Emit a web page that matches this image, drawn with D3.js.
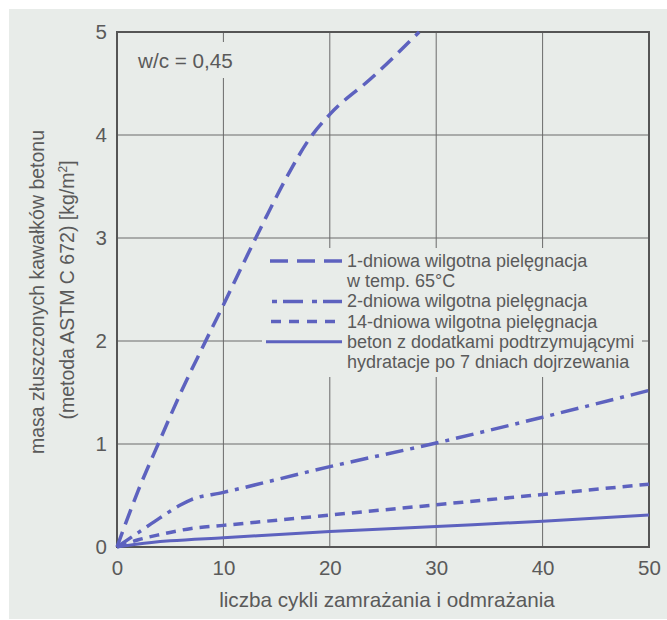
<!DOCTYPE html>
<html>
<head>
<meta charset="utf-8">
<script src="https://cdn.jsdelivr.net/npm/d3@7"></script>
<style>
  html, body { margin: 0; padding: 0; background: #ffffff; }
  svg { display: block; font-family: "Liberation Sans", Arial, sans-serif; }
</style>
</head>
<body>
<svg id="chart" width="667" height="620"></svg>
<script>
// Freeze–thaw cycles vs. mass of scaled-off concrete (ASTM C 672), w/c = 0.45
const xTicks = [0, 10, 20, 30, 40, 50];
const yTicks = [0, 1, 2, 3, 4, 5];

const series1Label = ["1-dniowa wilgotna pielęgnacja", "w temp. 65°C"];
const series2Label = ["2-dniowa wilgotna pielęgnacja"];
const series3Label = ["14-dniowa wilgotna pielęgnacja"];
const series4Label = ["beton z dodatkami podtrzymującymi", "hydratacje po 7 dniach dojrzewania"];

// [cycles, kg/m²]
const series1 = [[0,0],[2,0.55],[4,1.03],[6,1.5],[8,1.93],[10,2.35],[12,2.78],[14,3.2],[16,3.6],[18,3.95],[20,4.2],[24,4.56],[28.4,5]];
const series2 = [[0,0],[2,0.14],[4,0.28],[6,0.41],[7,0.46],[10,0.53],[20,0.78],[30,1.01],[40,1.26],[50,1.52]];
const series3 = [[0,0],[2,0.07],[4,0.12],[7,0.18],[10,0.21],[20,0.31],[30,0.41],[40,0.51],[50,0.61]];
const series4 = [[0,0],[2,0.03],[5,0.06],[10,0.09],[20,0.15],[30,0.2],[40,0.25],[50,0.31]];

const annotation = "w/c = 0,45";
const xTitle = "liczba cykli zamrażania i odmrażania";
const yTitle1 = "masa złuszczonych kawałków betonu";
const yTitle2 = "(metoda ASTM C 672) [kg/m";

const BG = "#e8ece9";
const INK = "#5a5a5a";
const LINE = "#5d62bf";

const svg = d3.select("#chart");
const plot = { left: 117, right: 649, top: 32, bottom: 547 };

const x = d3.scaleLinear().domain([0, 50]).range([plot.left, plot.right]);
const y = d3.scaleLinear().domain([0, 5]).range([plot.bottom, plot.top]);

// paper
svg.append("rect").attr("x", 9).attr("y", 9).attr("width", 658).attr("height", 610).attr("fill", BG);

// grid
const grid = svg.append("g");
grid.selectAll("line.v").data(xTicks.slice(1, -1)).join("line")
  .attr("x1", d => x(d)).attr("x2", d => x(d))
  .attr("y1", plot.top).attr("y2", plot.bottom)
  .attr("stroke", "#6a6a6a").attr("stroke-width", 1);
grid.selectAll("line.h").data(yTicks.slice(1, -1)).join("line")
  .attr("x1", plot.left).attr("x2", plot.right)
  .attr("y1", d => y(d)).attr("y2", d => y(d))
  .attr("stroke", "#6a6a6a").attr("stroke-width", 1);

// label backgrounds cover the grid
svg.append("rect").attr("x", 133).attr("y", 42).attr("width", 108).attr("height", 36).attr("fill", BG);
svg.append("rect").attr("x", 262).attr("y", 248).attr("width", 380).attr("height", 129).attr("fill", BG);

// frame
svg.append("rect")
  .attr("x", plot.left).attr("y", plot.top)
  .attr("width", plot.right - plot.left).attr("height", plot.bottom - plot.top)
  .attr("fill", "none").attr("stroke", "#555").attr("stroke-width", 2);

// axes
const fmt = d3.format("d");
const xAxis = svg.append("g").attr("transform", `translate(0,${plot.bottom})`)
  .call(d3.axisBottom(x).tickValues(xTicks).tickFormat(fmt).tickSize(0).tickPadding(13));
const yAxis = svg.append("g").attr("transform", `translate(${plot.left},0)`)
  .call(d3.axisLeft(y).tickValues(yTicks).tickFormat(fmt).tickSize(0).tickPadding(10));
[xAxis, yAxis].forEach(a => {
  a.select(".domain").remove();
  a.selectAll("text").attr("fill", INK).attr("font-size", 20.5)
    .attr("font-family", "'Liberation Sans', Arial, sans-serif");
});

// titles
svg.append("text").attr("x", 387).attr("y", 607).attr("text-anchor", "middle")
  .attr("font-size", 20.7).attr("fill", INK).text(xTitle);

svg.append("text").attr("transform", "translate(44,292) rotate(-90)")
  .attr("text-anchor", "middle").attr("font-size", 19.5).attr("fill", INK).text(yTitle1);
const yt2 = svg.append("text").attr("transform", "translate(74,290) rotate(-90)")
  .attr("text-anchor", "middle").attr("font-size", 19.5).attr("fill", INK);
yt2.append("tspan").text(yTitle2);
yt2.append("tspan").attr("font-size", 12).attr("dy", -7).text("2");
yt2.append("tspan").attr("dy", 7).text("]");

svg.append("text").attr("x", 138).attr("y", 68).attr("font-size", 20.7).attr("fill", INK).text(annotation);

// curves
const line = d3.line().x(d => x(d[0])).y(d => y(d[1])).curve(d3.curveMonotoneX);
const styles = [
  { data: series1, dash: "16 8", width: 3.5 },
  { data: series2, dash: "18 7 4 7", width: 3.5 },
  { data: series3, dash: "10 7", width: 3.5 },
  { data: series4, dash: null, width: 3 }
];
styles.forEach(s => {
  svg.append("path").attr("d", line(s.data))
    .attr("fill", "none").attr("stroke", LINE)
    .attr("stroke-width", s.width)
    .attr("stroke-dasharray", s.dash)
    .attr("stroke-linejoin", "round");
});

// legend
const legend = svg.append("g");
const lx1 = 342, tx = 347, base = 267, step = 20.2;
const legendRows = [
  { label: series1Label, dash: "18 9", x0: 270, width: 3.5 },
  { label: series2Label, dash: "5 6 20 9", x0: 272, width: 3.5 },
  { label: series3Label, dash: "10 8", x0: 271, width: 3.5 },
  { label: series4Label, dash: null, x0: 266, width: 3 }
];
let row = 0;
legendRows.forEach(r => {
  const cy = base + row * step - 6;
  legend.append("line").attr("x1", r.x0).attr("x2", lx1).attr("y1", cy).attr("y2", cy)
    .attr("stroke", LINE).attr("stroke-width", r.width).attr("stroke-dasharray", r.dash);
  r.label.forEach(t => {
    legend.append("text").attr("x", tx).attr("y", base + row * step)
      .attr("font-size", 18).attr("fill", INK).text(t);
    row++;
  });
});
</script>
</body>
</html>
